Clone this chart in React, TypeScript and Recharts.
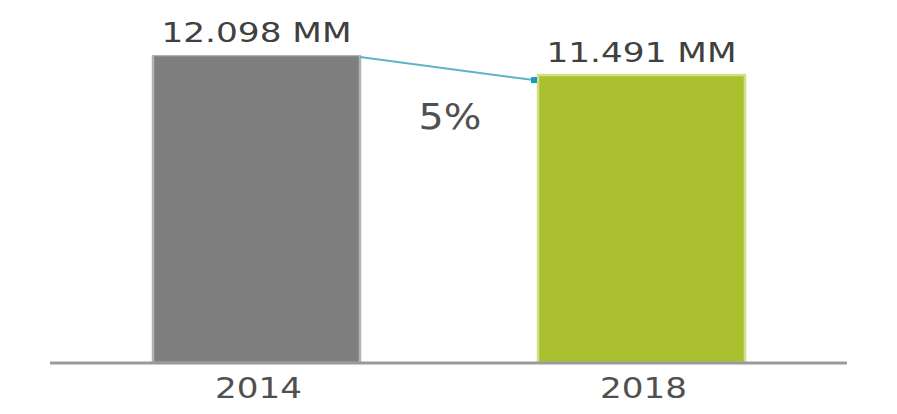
import React from "react";
import {
  BarChart,
  Bar,
  XAxis,
  YAxis,
  Cell,
  LabelList,
  ReferenceLine,
} from "recharts";

const years = ["2014", "2018"];
const volumes = [12.098, 11.491];
const volumeLabels = ["12.098 MM", "11.491 MM"];

const data = years.map((year, i) => ({
  year,
  volume: volumes[i],
  label: volumeLabels[i],
}));

const dropPct = Math.round(((volumes[0] - volumes[1]) / volumes[0]) * 100);

const FONT = "'DejaVu Sans', Verdana, sans-serif";
const BAR_SIZE = 207;
const FILLS = ["#7f7f7f", "#abc02f"];
const EDGES = ["#b3b3b3", "#d2de8c"];

function ValueLabel(props: any) {
  const { x, y, width, value } = props;
  return (
    <text
      transform={`translate(${x + width / 2},${y - 13}) scale(1.27,1)`}
      textAnchor="middle"
      fontFamily={FONT}
      fontSize={27}
      fill="#404040"
    >
      {value}
    </text>
  );
}

function YearTick(props: any) {
  const { x, y, payload } = props;
  return (
    <text
      transform={`translate(${x + 2},${y + 35}) scale(1.22,1)`}
      textAnchor="middle"
      fontFamily={FONT}
      fontSize={28}
      fill="#505050"
    >
      {payload.value}
    </text>
  );
}

function Connector(props: any) {
  const { x1, y1, x2, y2 } = props;
  const sx = x1 + BAR_SIZE / 2;
  const ex = x2 - BAR_SIZE / 2 - 4;
  const sy = y1 + 2;
  const ey = y2 + 5;
  const mx = (sx + ex) / 2;
  const my = (sy + ey) / 2;
  return (
    <g>
      <line x1={sx} y1={sy} x2={ex} y2={ey} stroke="#5bb4cc" strokeWidth={2} />
      <rect x={ex - 3} y={ey - 3} width={6} height={6} fill="#1b9ab9" />
      <text
        transform={`translate(${mx + 3},${my + 60}) scale(1.1,1)`}
        textAnchor="middle"
        fontFamily={FONT}
        fontSize={36}
        fill="#505050"
      >
        {dropPct}%
      </text>
    </g>
  );
}

export default function App() {
  return (
    <div style={{ position: "absolute", left: 0, top: 0, background: "#fff" }}>
      <BarChart
        width={897}
        height={414}
        data={data}
        margin={{ top: 55, right: 50, bottom: 21, left: 50 }}
      >
        <XAxis
          dataKey="year"
          padding={{ left: 14, right: 13 }}
          axisLine={{ stroke: "#9a9a9a", strokeWidth: 3 }}
          tickLine={false}
          tickSize={0}
          tickMargin={0}
          tick={<YearTick />}
          height={30}
        />
        <YAxis hide domain={[2.8, 12.098]} allowDataOverflow />
        <Bar dataKey="volume" barSize={BAR_SIZE} isAnimationActive={false}>
          {data.map((d, i) => (
            <Cell key={d.year} fill={FILLS[i]} stroke={EDGES[i]} strokeWidth={2.5} />
          ))}
          <LabelList dataKey="label" content={<ValueLabel />} />
        </Bar>
        <ReferenceLine
          segment={[
            { x: years[0], y: volumes[0] },
            { x: years[1], y: volumes[1] },
          ]}
          ifOverflow="visible"
          shape={(p: any) => <Connector {...p} />}
        />
      </BarChart>
    </div>
  );
}
